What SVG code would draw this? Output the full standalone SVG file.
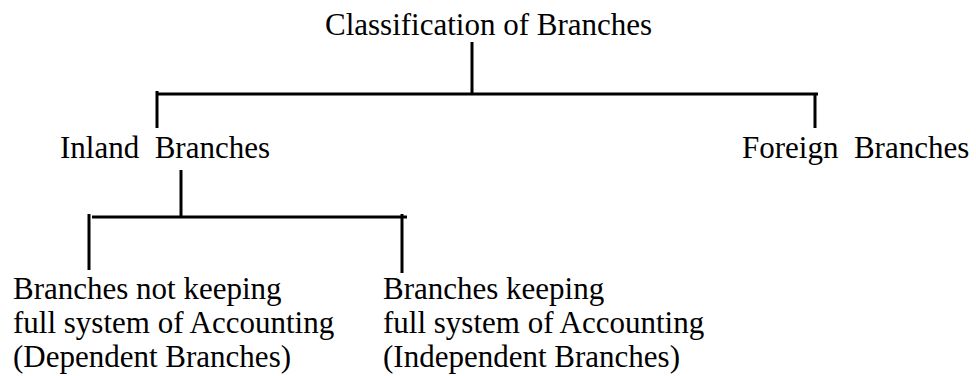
<svg xmlns="http://www.w3.org/2000/svg" width="976" height="376" viewBox="0 0 976 376">
<style>
text{font-family:"Liberation Serif","Times New Roman",serif;font-size:31px;fill:#000}
.c line{stroke:#000;stroke-width:3}
</style>
<rect width="976" height="376" fill="#fff"/>
<g class="c" id="connectors">
<line x1="472" y1="42" x2="472" y2="95"/>
<line x1="157" y1="94" x2="818" y2="94"/>
<line x1="157" y1="91" x2="157" y2="128"/>
<line x1="815" y1="94" x2="815" y2="128"/>
<line x1="181" y1="170" x2="181" y2="217"/>
<line x1="92" y1="217" x2="407" y2="217"/>
<line x1="89" y1="214" x2="89" y2="270"/>
<line x1="402" y1="214" x2="402" y2="273"/>
</g>
<g id="root"><text x="325" y="35">Classification of Branches</text></g>
<g id="inland"><text x="60" y="158" xml:space="preserve">Inland  Branches</text></g>
<g id="foreign"><text x="742" y="158" xml:space="preserve">Foreign  Branches</text></g>
<g id="dependent"><text x="13" y="299">Branches not keeping</text><text x="13" y="333">full system of Accounting</text><text x="13" y="367">(Dependent Branches)</text></g>
<g id="independent"><text x="383" y="299">Branches keeping</text><text x="383" y="333">full system of Accounting</text><text x="383" y="367">(Independent Branches)</text></g>
</svg>
